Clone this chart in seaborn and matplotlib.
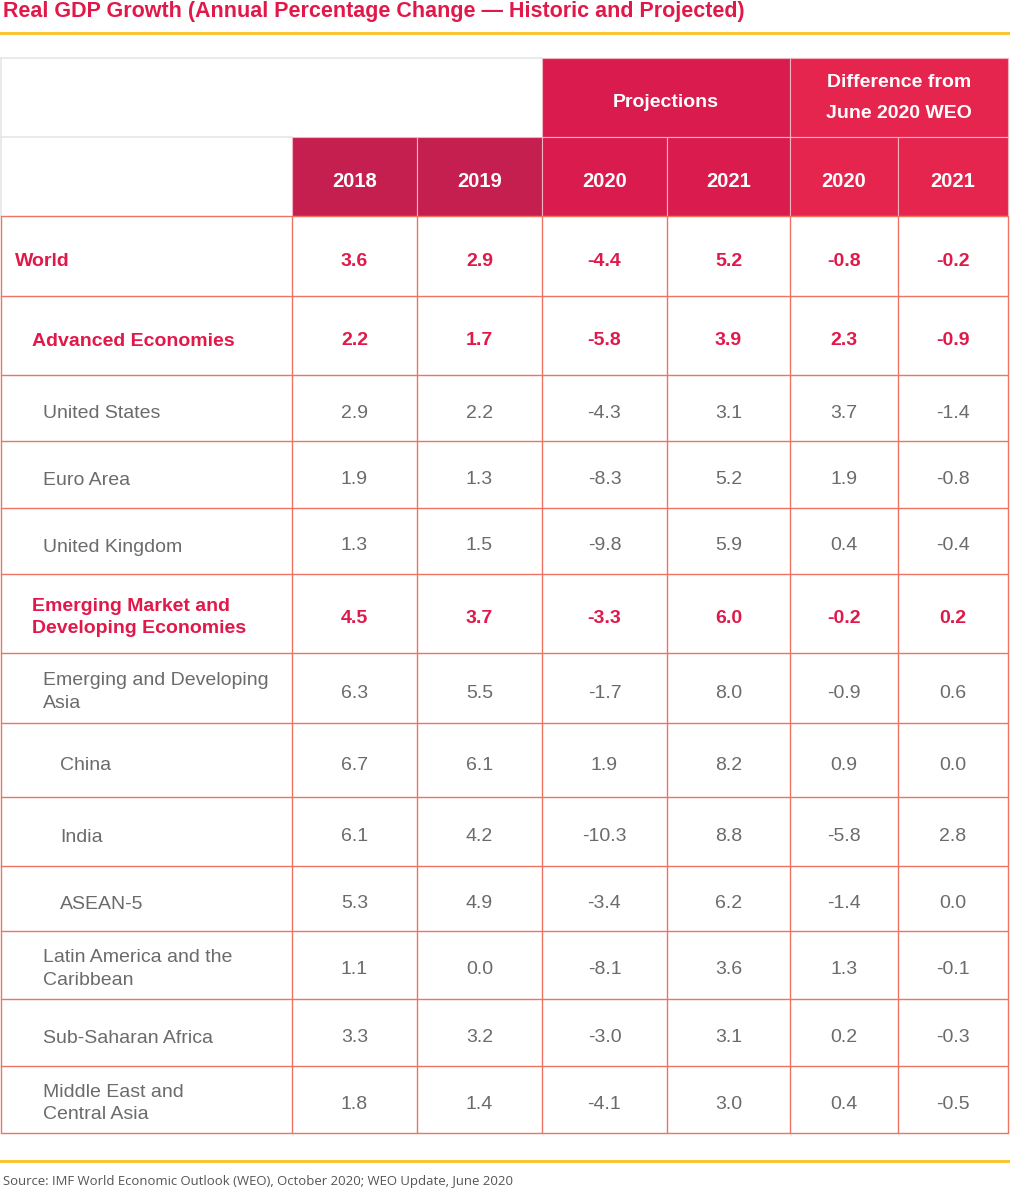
import matplotlib
matplotlib.use("Agg")
import matplotlib.pyplot as plt
from matplotlib.patches import Rectangle
import pandas as pd
import seaborn as sns

# ---- data ----
regions = ["World", "Advanced Economies", "United States", "Euro Area", "United Kingdom",
           "Emerging Market and\nDeveloping Economies", "Emerging and Developing\nAsia",
           "China", "India", "ASEAN-5", "Latin America and the\nCaribbean",
           "Sub-Saharan Africa", "Middle East and\nCentral Asia"]
levels = [0, 1, 2, 2, 2, 1, 2, 3, 3, 3, 2, 2, 2]
bold_rows = [True, True, False, False, False, True, False, False, False, False, False, False, False]
gdp_2018 = [3.6, 2.2, 2.9, 1.9, 1.3, 4.5, 6.3, 6.7, 6.1, 5.3, 1.1, 3.3, 1.8]
gdp_2019 = [2.9, 1.7, 2.2, 1.3, 1.5, 3.7, 5.5, 6.1, 4.2, 4.9, 0.0, 3.2, 1.4]
proj_2020 = [-4.4, -5.8, -4.3, -8.3, -9.8, -3.3, -1.7, 1.9, -10.3, -3.4, -8.1, -3.0, -4.1]
proj_2021 = [5.2, 3.9, 3.1, 5.2, 5.9, 6.0, 8.0, 8.2, 8.8, 6.2, 3.6, 3.1, 3.0]
diff_2020 = [-0.8, 2.3, 3.7, 1.9, 0.4, -0.2, -0.9, 0.9, -5.8, -1.4, 1.3, 0.2, 0.4]
diff_2021 = [-0.2, -0.9, -1.4, -0.8, -0.4, 0.2, 0.6, 0.0, 2.8, 0.0, -0.1, -0.3, -0.5]
year_labels = ["2018", "2019", "2020", "2021", "2020", "2021"]

title = "Real GDP Growth (Annual Percentage Change \u2014 Historic and Projected)"
source = "Source: IMF World Economic Outlook (WEO), October 2020; WEO Update, June 2020"

df = pd.DataFrame({"region": regions, "level": levels, "bold": bold_rows,
                   "y2018": gdp_2018, "y2019": gdp_2019, "p2020": proj_2020,
                   "p2021": proj_2021, "d2020": diff_2020, "d2021": diff_2021})
value_cols = ["y2018", "y2019", "p2020", "p2021", "d2020", "d2021"]

# ---- style ----
sns.set_theme(style="white")
plt.rcParams["font.family"] = ["Liberation Sans", "DejaVu Sans"]

RED = "#E0194A"
GREY = "#6b6b6b"
GRID = "#EE7363"
YELLOW = "#F9C735"
HIST = "#C41F4E"
PROJ = "#DA1B4E"
DIFF = "#E6254F"
cell_colors = [HIST, HIST, PROJ, PROJ, DIFF, DIFF]

col_edges = [0, 292, 417, 542, 667, 790, 898, 1008]
row_edges = [216, 296, 375, 441, 508, 574, 653, 723, 797, 866, 931, 999, 1066, 1133]
head_top, head_mid, head_bot = 58, 137, 216
indent = {0: 15, 1: 32, 2: 43, 3: 60}
dy = 5  # text baseline sits a little below the geometric middle

fig = plt.figure(figsize=(10.1, 12), dpi=100)
ax = fig.add_axes([0, 0, 1, 1])
ax.set_xlim(0, 1010)
ax.set_ylim(1200, 0)
ax.axis("off")

# title + rules
ax.text(3, 11, title, color=RED, fontsize=15.5, fontweight="bold",
        va="center", ha="left")
ax.plot([0, 1010], [33, 33], color=YELLOW, lw=2.2)
ax.plot([0, 1010], [1161, 1161], color=YELLOW, lw=2.2)
ax.text(3, 1181, source, color="#555555", fontsize=9.45,
        family=["Open Sans", "DejaVu Sans"], va="center", ha="left")

# header: top-left white area outline
ax.plot([0, 542], [head_top, head_top], color="#E6E6E6", lw=1.2)
ax.plot([0, 292], [head_mid, head_mid], color="#E6E6E6", lw=1.2)
ax.plot([1, 1], [head_top, head_bot], color="#E6E6E6", lw=1.2)

# header: group cells
ax.add_patch(Rectangle((542, head_top), 248, head_mid - head_top, facecolor=PROJ,
                       edgecolor="#F2B3C0", lw=0.8))
ax.add_patch(Rectangle((790, head_top), 218, head_mid - head_top, facecolor=DIFF,
                       edgecolor="#F2B3C0", lw=0.8))
ax.text(666, (head_top + head_mid) / 2 + dy, "Projections", color="white", fontsize=14,
        fontweight="bold", ha="center", va="center")
ax.text(899, (head_top + head_mid) / 2 + 0.5, "Difference from\nJune 2020 WEO", color="white",
        fontsize=14, fontweight="bold", ha="center", va="center", linespacing=2.05)

# header: year cells
for i, lab in enumerate(year_labels):
    x0, x1 = col_edges[i + 1], col_edges[i + 2]
    ax.add_patch(Rectangle((x0, head_mid), x1 - x0, head_bot - head_mid,
                           facecolor=cell_colors[i], edgecolor="#F2B3C0", lw=0.8))
    ax.text((x0 + x1) / 2, (head_mid + head_bot) / 2 + dy, lab, color="white", fontsize=14.5,
            fontweight="bold", ha="center", va="center")

# body rows
for r, row in df.iterrows():
    y0, y1 = row_edges[r], row_edges[r + 1]
    yc = (y0 + y1) / 2 + dy
    color = RED if row["bold"] else GREY
    weight = "bold" if row["bold"] else "normal"
    two_line = "\n" in row["region"]
    ax.text(indent[row["level"]], yc - (1 if two_line else -1), row["region"], color=color,
            fontsize=14, fontweight=weight, ha="left", va="center", linespacing=1.45)
    for j, c in enumerate(value_cols):
        xc = (col_edges[j + 1] + col_edges[j + 2]) / 2
        ax.text(xc, yc, f"{row[c]:.1f}", color=color, fontsize=14, fontweight=weight,
                ha="center", va="center")

# body grid
for y in row_edges:
    ax.plot([1, 1008], [y, y], color=GRID, lw=1)
for x in col_edges:
    xx = min(max(x, 1), 1008)
    ax.plot([xx, xx], [head_bot, row_edges[-1]], color=GRID, lw=1)

fig.savefig("out.png", dpi=100, facecolor="white")
